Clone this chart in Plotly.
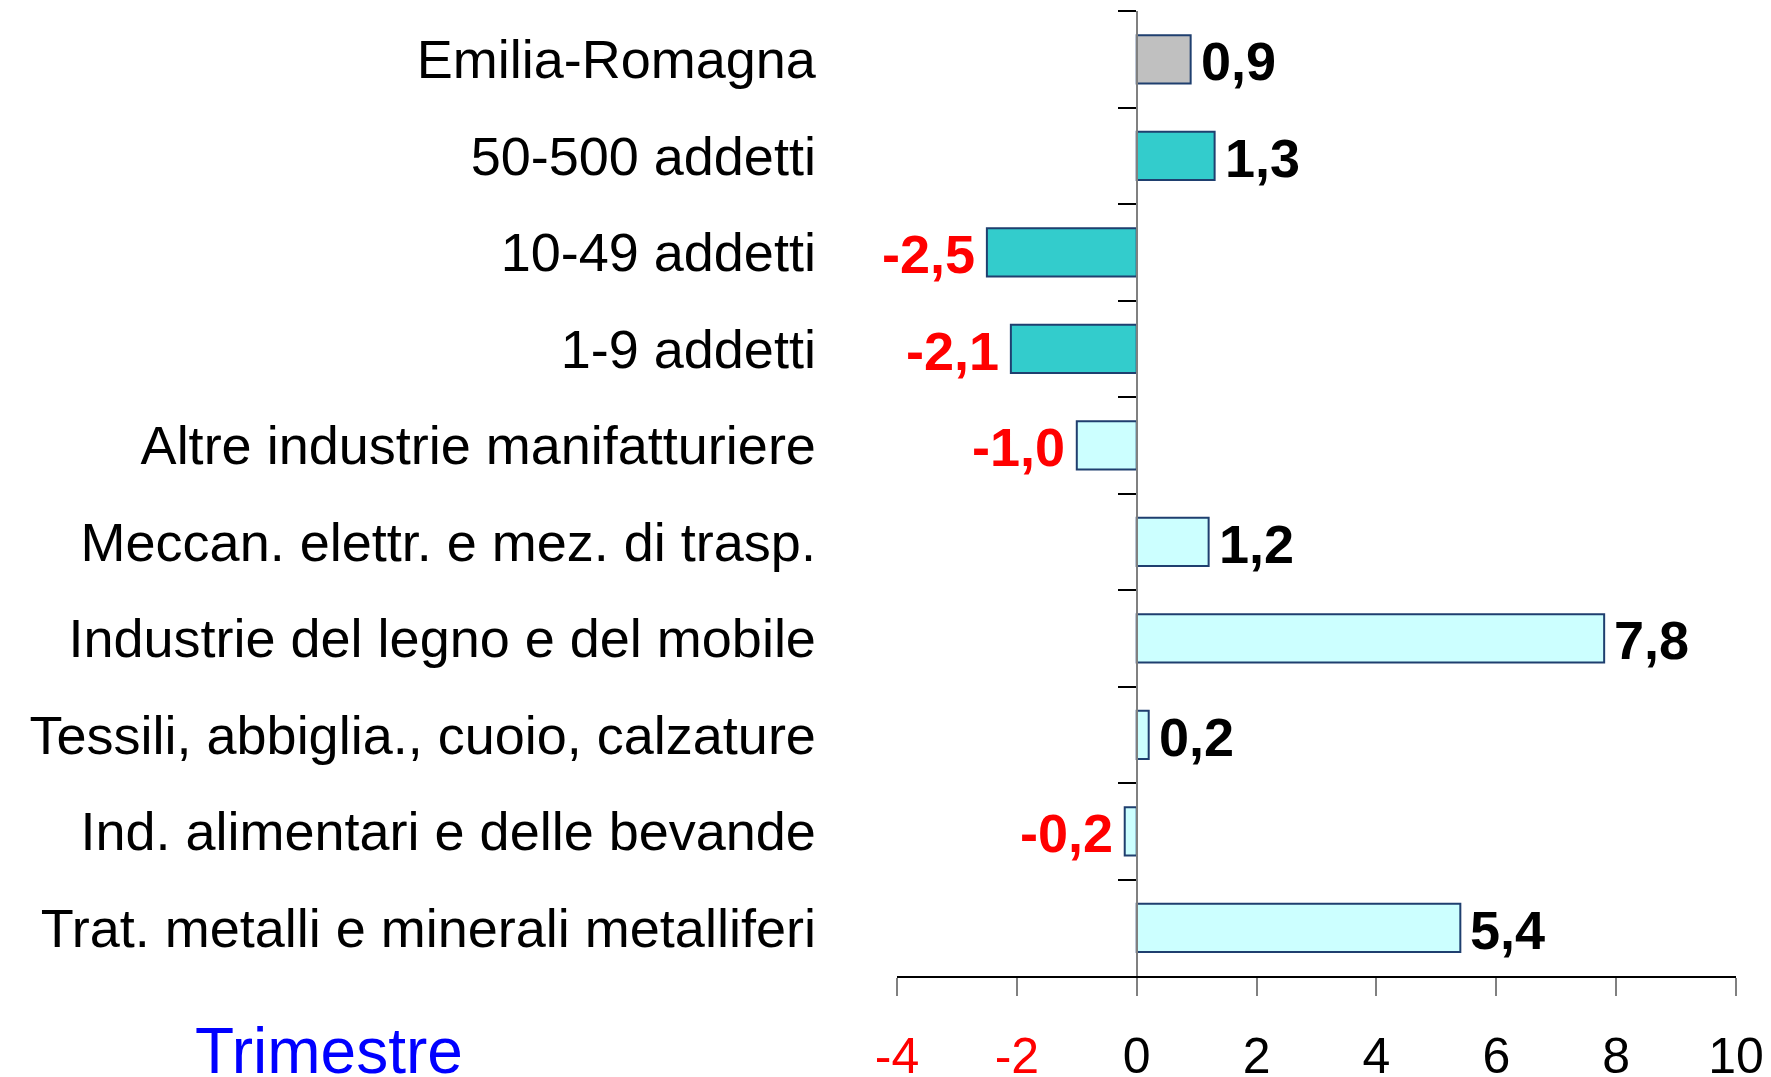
import plotly.graph_objects as go

categories = [
    "Emilia-Romagna",
    "50-500 addetti",
    "10-49 addetti",
    "1-9 addetti",
    "Altre industrie manifatturiere",
    "Meccan. elettr. e mez. di trasp.",
    "Industrie del legno e del mobile",
    "Tessili, abbiglia., cuoio, calzature",
    "Ind. alimentari e delle bevande",
    "Trat. metalli e minerali metalliferi",
]
values = [0.9, 1.3, -2.5, -2.1, -1.0, 1.2, 7.8, 0.2, -0.2, 5.4]
bar_colors = ["#C0C0C0", "#33CCCC", "#33CCCC", "#33CCCC",
              "#CCFFFF", "#CCFFFF", "#CCFFFF", "#CCFFFF", "#CCFFFF", "#CCFFFF"]
tick_vals = [-4, -2, 0, 2, 4, 6, 8, 10]
tick_colors = ["#FF0000", "#FF0000", "#000000", "#000000", "#000000", "#000000", "#000000", "#000000"]

FONT = "Arial, 'Liberation Sans', sans-serif"

def fmt(v):
    return f"{v:.1f}".replace(".", ",")

fig = go.Figure()
fig.add_trace(go.Bar(
    x=values, y=categories, orientation="h", width=0.5,
    marker=dict(color=bar_colors, line=dict(color="#1F3F6F", width=2)),
    hoverinfo="skip",
))

for c, v in zip(categories, values):
    fig.add_annotation(
        x=v, y=c, xref="x", yref="y",
        text=f"<b>{fmt(v)}</b>", showarrow=False,
        xanchor="left" if v >= 0 else "right",
        xshift=8 if v >= 0 else -10, yshift=-2,
        font=dict(family=FONT, size=54, color="#000000" if v >= 0 else "#FF0000"),
    )

fig.add_annotation(
    x=-0.839, y=-0.078, xref="paper", yref="paper",
    text="Trimestre", showarrow=False, xanchor="left", yanchor="middle",
    font=dict(family=FONT, size=64, color="#0000FF"),
)

ticktext = [f"<span style='color:{col}'>{t}</span>" for t, col in zip(tick_vals, tick_colors)]

fig.update_layout(
    width=1771, height=1077,
    margin=dict(l=897, r=35, t=11, b=101, autoexpand=False),
    paper_bgcolor="white", plot_bgcolor="white",
    showlegend=False,
    font=dict(family=FONT, color="#000000"),
    xaxis=dict(
        range=[-4, 10], tickvals=tick_vals, ticktext=ticktext,
        showgrid=False, zeroline=False,
        showline=True, linecolor="#000000", linewidth=1.5,
        ticks="outside", ticklen=18, tickcolor="#808080", tickwidth=1.5,
        tickfont=dict(family=FONT, size=50, color="#000000"),
        ticklabelstandoff=17,
        fixedrange=True,
    ),
    yaxis=dict(
        type="category", categoryorder="array", categoryarray=categories,
        autorange="reversed",
        anchor="free", position=4 / 14,
        showgrid=False, zeroline=False,
        showline=True, linecolor="#808080", linewidth=2,
        ticks="outside", tickson="boundaries", ticklen=18, tickcolor="#000000", tickwidth=1.5,
        tickfont=dict(family=FONT, size=54, color="#000000"),
        ticklabelstandoff=309,
        fixedrange=True,
    ),
)

fig.write_html(
    "out.html",
    config={"displayModeBar": False},
    post_script="document.body.style.margin='0';document.body.style.overflow='hidden';",
)
